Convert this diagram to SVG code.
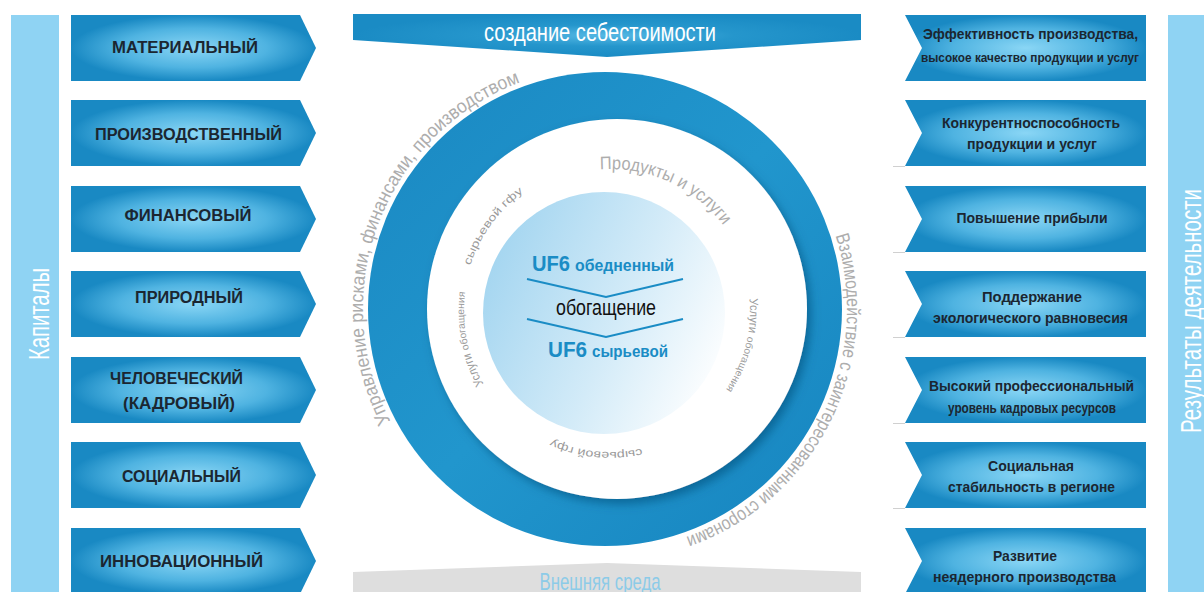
<svg xmlns="http://www.w3.org/2000/svg" xmlns:xlink="http://www.w3.org/1999/xlink" width="1204" height="592" viewBox="0 0 1204 592">
<style>
.bar{fill:#8fd3f3}
.cap{font-family:"Liberation Sans","Arial",sans-serif;font-weight:bold;font-size:16px;fill:#1b2631;text-anchor:middle}
.res{font-family:"Liberation Sans Narrow","Liberation Sans",sans-serif;font-weight:bold;font-size:15px;fill:#1b2631;text-anchor:middle}
.vert{font-family:"Liberation Sans Narrow","Liberation Sans",sans-serif;font-size:29px;fill:#ffffff;text-anchor:middle}
.ring{font-family:"Liberation Sans Narrow","Liberation Sans",sans-serif;font-size:19px;fill:#adadad}
.ringin{font-family:"Liberation Sans Narrow","Liberation Sans",sans-serif;font-size:18px;fill:#adadad}
.small{font-family:"Liberation Sans Narrow","Liberation Sans",sans-serif;font-size:11px;fill:#9a9a9a}
.usl{font-family:"Liberation Sans Narrow","Liberation Sans",sans-serif;font-size:12px;fill:#9a9a9a}
.obo{font-family:"Liberation Sans Narrow","Liberation Sans",sans-serif;font-size:10px;fill:#9a9a9a}
.uf{font-family:"Liberation Sans Narrow","Liberation Sans",sans-serif;font-weight:bold;fill:#1a8cc5}
.shadowline{stroke:#d0d0d0;stroke-width:1}
</style>
<defs>
<radialGradient id="boxg" cx="0.5" cy="0.5" r="0.5">
<stop offset="0" stop-color="#8ad6f5"/>
<stop offset="0.6" stop-color="#4fb3e1"/>
<stop offset="1" stop-color="#1989c3"/>
</radialGradient>
<radialGradient id="bang" cx="0.5" cy="0.5" r="0.5">
<stop offset="0" stop-color="#55b8e4"/>
<stop offset="0.5" stop-color="#2596cc"/>
<stop offset="1" stop-color="#1a8bc4"/>
</radialGradient>
<linearGradient id="ringg" x1="0" y1="0" x2="1" y2="1">
<stop offset="0" stop-color="#1a88c2"/>
<stop offset="0.5" stop-color="#2196cd"/>
<stop offset="1" stop-color="#1684bf"/>
</linearGradient>
<linearGradient id="coreg" x1="0" y1="0.3" x2="1" y2="0.75">
<stop offset="0" stop-color="#a3d5f0"/>
<stop offset="0.55" stop-color="#d3ebf8"/>
<stop offset="1" stop-color="#ffffff"/>
</linearGradient>
<filter id="inshadow" x="-20%" y="-20%" width="140%" height="140%">
<feDropShadow dx="4" dy="5" stdDeviation="5" flood-color="#06507a" flood-opacity="0.6"/>
</filter>
<path id="pOutL" d="M395.4,430 A242,242 0 0 1 542.4,75.2"/>
<path id="pOutR" d="M824.3,206.7 A242,242 0 0 1 647,547.3"/>
<path id="pProd" d="M585.34,171.16 A142,142 0 0 1 743.44,262.43"/>
<path id="pSyrTop" d="M465.23,285.47 A147,147 0 0 1 547.87,177.77"/>
<path id="pUslL" d="M498.16,404.85 A146,146 0 0 1 468.97,273.21"/>
<path id="pUslR" d="M745.23,274.77 A140,140 0 0 1 699.99,418.25"/>
<path id="pSyrBot" d="M669.59,438.79 A141,141 0 0 1 519.37,419.01"/>
</defs>

<g id="capitals-bar">
<rect class="bar" x="11" y="15" width="48" height="577"/>
<text class="vert" transform="translate(49,314) rotate(-90)" textLength="92" lengthAdjust="spacingAndGlyphs">Капиталы</text>
</g>

<g id="results-bar">
<rect class="bar" x="1168" y="15" width="36" height="577"/>
<text class="vert" transform="translate(1201,311) rotate(-90)" textLength="244" lengthAdjust="spacingAndGlyphs">Результаты деятельности</text>
</g>

<g id="cap-material">
<polygon points="71,15 300,15 316,48 300,81 71,81" fill="url(#boxg)"/>
<text class="cap" x="185" y="53" textLength="146" lengthAdjust="spacingAndGlyphs">МАТЕРИАЛЬНЫЙ</text>
</g>
<g id="cap-production">
<polygon points="71,100 300,100 316,133 300,166 71,166" fill="url(#boxg)"/>
<text class="cap" x="188.5" y="140" textLength="187" lengthAdjust="spacingAndGlyphs">ПРОИЗВОДСТВЕННЫЙ</text>
</g>
<g id="cap-financial">
<polygon points="71,186 300,186 316,219 300,252 71,252" fill="url(#boxg)"/>
<text class="cap" x="188" y="221" textLength="127" lengthAdjust="spacingAndGlyphs">ФИНАНСОВЫЙ</text>
</g>
<g id="cap-natural">
<polygon points="71,271 300,271 316,304 300,337 71,337" fill="url(#boxg)"/>
<text class="cap" x="189" y="303" textLength="108" lengthAdjust="spacingAndGlyphs">ПРИРОДНЫЙ</text>
</g>
<g id="cap-human">
<polygon points="71,357 300,357 316,390 300,423 71,423" fill="url(#boxg)"/>
<text class="cap" x="176.5" y="384" textLength="133" lengthAdjust="spacingAndGlyphs">ЧЕЛОВЕЧЕСКИЙ</text>
<text class="cap" x="179" y="409" textLength="112" lengthAdjust="spacingAndGlyphs">(КАДРОВЫЙ)</text>
</g>
<g id="cap-social">
<polygon points="71,442 300,442 316,475 300,508 71,508" fill="url(#boxg)"/>
<text class="cap" x="181.5" y="482" textLength="119" lengthAdjust="spacingAndGlyphs">СОЦИАЛЬНЫЙ</text>
</g>
<g id="cap-innovation">
<polygon points="71,528 300,528 316,561 300,594 71,594" fill="url(#boxg)"/>
<text class="cap" x="181.5" y="567" textLength="163" lengthAdjust="spacingAndGlyphs">ИННОВАЦИОННЫЙ</text>
</g>

<g id="res-efficiency">
<polygon points="905,15 1146,15 1146,81 905,81 922,48" fill="url(#boxg)"/>
<text class="res" x="1030.5" y="39" textLength="215" lengthAdjust="spacingAndGlyphs">Эффективность производства,</text>
<text class="res" x="1030" y="62" style="font-size:12.5px" textLength="218" lengthAdjust="spacingAndGlyphs">высокое качество продукции и услуг</text>
</g>
<g id="res-competitive">
<line class="shadowline" x1="893" y1="166.5" x2="905" y2="166.5"/>
<polygon points="905,100 1146,100 1146,166 905,166 922,133" fill="url(#boxg)"/>
<text class="res" x="1031" y="128" textLength="178" lengthAdjust="spacingAndGlyphs">Конкурентноспособность</text>
<text class="res" x="1032" y="149" textLength="130" lengthAdjust="spacingAndGlyphs">продукции и услуг</text>
</g>
<g id="res-profit">
<line class="shadowline" x1="893" y1="252.5" x2="905" y2="252.5"/>
<polygon points="905,186 1146,186 1146,252 905,252 922,219" fill="url(#boxg)"/>
<text class="res" x="1032" y="223" textLength="151" lengthAdjust="spacingAndGlyphs">Повышение прибыли</text>
</g>
<g id="res-ecology">
<line class="shadowline" x1="893" y1="337.5" x2="905" y2="337.5"/>
<polygon points="905,271 1146,271 1146,337 905,337 922,304" fill="url(#boxg)"/>
<text class="res" x="1032" y="302" textLength="100" lengthAdjust="spacingAndGlyphs">Поддержание</text>
<text class="res" x="1030.5" y="323" textLength="195" lengthAdjust="spacingAndGlyphs">экологического равновесия</text>
</g>
<g id="res-staff">
<line class="shadowline" x1="893" y1="423.5" x2="905" y2="423.5"/>
<polygon points="905,357 1146,357 1146,423 905,423 922,390" fill="url(#boxg)"/>
<text class="res" x="1031.5" y="391" textLength="205" lengthAdjust="spacingAndGlyphs">Высокий профессиональный</text>
<text class="res" x="1032" y="413" style="font-size:14px" textLength="168" lengthAdjust="spacingAndGlyphs">уровень кадровых ресурсов</text>
</g>
<g id="res-stability">
<line class="shadowline" x1="893" y1="508.5" x2="905" y2="508.5"/>
<polygon points="905,442 1146,442 1146,508 905,508 922,475" fill="url(#boxg)"/>
<text class="res" x="1031" y="471" textLength="86" lengthAdjust="spacingAndGlyphs">Социальная</text>
<text class="res" x="1031.5" y="492" textLength="167" lengthAdjust="spacingAndGlyphs">стабильность в регионе</text>
</g>
<g id="res-nonnuclear">
<polygon points="905,528 1146,528 1146,594 905,594 922,561" fill="url(#boxg)"/>
<text class="res" x="1025" y="561" textLength="64" lengthAdjust="spacingAndGlyphs">Развитие</text>
<text class="res" x="1024.5" y="582" textLength="183" lengthAdjust="spacingAndGlyphs">неядерного производства</text>
</g>

<g id="cost-banner">
<polygon points="353,14 861,14 861,40 607,57 353,40" fill="url(#bang)"/>
<text x="600" y="41" style="font-family:'Liberation Sans Narrow','Liberation Sans',sans-serif;font-size:25px;fill:#ffffff;text-anchor:middle" textLength="232" lengthAdjust="spacingAndGlyphs">создание себестоимости</text>
</g>

<g id="env-banner">
<polygon points="353,572 607,563 861,572 861,594 353,594" fill="#dedede"/>
<text x="600" y="590" style="font-family:'Liberation Sans Narrow','Liberation Sans',sans-serif;font-size:24px;fill:#8ccbe8;text-anchor:middle" textLength="121" lengthAdjust="spacingAndGlyphs">Внешняя среда</text>
</g>

<g id="ring">
<circle cx="605" cy="309" r="237" fill="url(#ringg)"/>
<circle cx="617" cy="309" r="190" fill="#ffffff" filter="url(#inshadow)"/>
</g>

<g id="ring-labels">
<text class="ring"><textPath xlink:href="#pOutL" href="#pOutL" startOffset="10" textLength="410" lengthAdjust="spacingAndGlyphs">Управление рисками, финансами, производством</textPath></text>
<text class="ring"><textPath xlink:href="#pOutR" href="#pOutR" startOffset="31" textLength="372" lengthAdjust="spacingAndGlyphs">Взаимодействие с заинтересованными сторонами</textPath></text>
<text class="ringin"><textPath xlink:href="#pProd" href="#pProd" startOffset="14.9" textLength="141" lengthAdjust="spacingAndGlyphs">Продукты и услуги</textPath></text>
<text class="small"><textPath xlink:href="#pSyrTop" href="#pSyrTop" startOffset="20.5" textLength="92" lengthAdjust="spacingAndGlyphs">сырьевой  гфу</textPath></text>
<text class="usl"><textPath xlink:href="#pUslL" href="#pUslL" startOffset="25.5" textLength="34" lengthAdjust="spacingAndGlyphs">Услуги</textPath></text>
<text class="obo"><textPath xlink:href="#pUslL" href="#pUslL" startOffset="63" textLength="58" lengthAdjust="spacingAndGlyphs">обогащения</textPath></text>
<text class="usl"><textPath xlink:href="#pUslR" href="#pUslR" startOffset="24.4" textLength="34" lengthAdjust="spacingAndGlyphs">Услуги</textPath></text>
<text class="obo"><textPath xlink:href="#pUslR" href="#pUslR" startOffset="62" textLength="58" lengthAdjust="spacingAndGlyphs">обогащения</textPath></text>
<text class="small"><textPath xlink:href="#pSyrBot" href="#pSyrBot" startOffset="29.5" textLength="92" lengthAdjust="spacingAndGlyphs">сырьевой  гфу</textPath></text>
</g>

<g id="core">
<circle cx="604" cy="313" r="121" fill="url(#coreg)"/>
<text class="uf" x="532" y="271" style="font-size:22px" textLength="38" lengthAdjust="spacingAndGlyphs">UF6</text>
<text class="uf" x="575" y="271" style="font-size:16px" textLength="99" lengthAdjust="spacingAndGlyphs">обедненный</text>
<text x="606" y="315" style="font-family:'Liberation Sans Narrow','Liberation Sans',sans-serif;font-size:22px;fill:#111111;text-anchor:middle" textLength="100" lengthAdjust="spacingAndGlyphs">обогащение</text>
<text class="uf" x="548" y="357" style="font-size:22px" textLength="39" lengthAdjust="spacingAndGlyphs">UF6</text>
<text class="uf" x="592" y="357" style="font-size:16px" textLength="76" lengthAdjust="spacingAndGlyphs">сырьевой</text>
</g>

<g id="connectors">
<polyline points="527,279 606,297 683,279" fill="none" stroke="#1a8cc5" stroke-width="2"/>
<polyline points="527,319 606,337 683,319" fill="none" stroke="#1a8cc5" stroke-width="2"/>
</g>
</svg>
